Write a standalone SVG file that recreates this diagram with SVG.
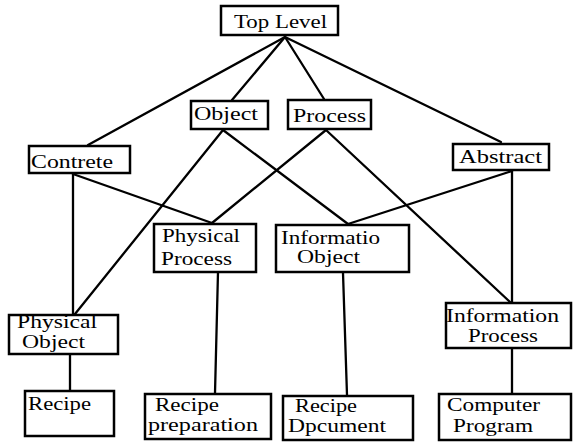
<svg xmlns="http://www.w3.org/2000/svg" width="573" height="442" viewBox="0 0 573 442">
<style>
.box{fill:#fff;stroke:#000;stroke-width:2.5}
.t{font-family:"Liberation Serif","Times New Roman",serif;font-size:18px;fill:#000}
.c line{stroke:#000;stroke-width:2.3;stroke-linecap:round}
</style>
<rect width="573" height="442" fill="#fff"/>
<g class="c" id="connectors">
<line x1="285" y1="37" x2="88" y2="145"/>
<line x1="285" y1="37" x2="232" y2="100"/>
<line x1="285" y1="37" x2="324" y2="99"/>
<line x1="285" y1="37" x2="501" y2="142"/>
<line x1="73" y1="174" x2="73" y2="314"/>
<line x1="73" y1="174" x2="212" y2="223"/>
<line x1="223" y1="130" x2="75" y2="314"/>
<line x1="223" y1="130" x2="348" y2="224"/>
<line x1="326" y1="130" x2="212" y2="223"/>
<line x1="326" y1="130" x2="510" y2="302"/>
<line x1="512" y1="171" x2="348" y2="224"/>
<line x1="512" y1="171" x2="512" y2="302"/>
<line x1="70" y1="354" x2="70" y2="390"/>
<line x1="218" y1="272" x2="215" y2="393"/>
<line x1="343" y1="273" x2="347" y2="395"/>
<line x1="512" y1="349" x2="512" y2="393"/>
</g>
<g id="top"><rect class="box" x="221" y="6" width="117" height="29"/><text class="t" x="234" y="28" textLength="93" lengthAdjust="spacingAndGlyphs">Top Level</text></g>
<g id="object"><rect class="box" x="191" y="101" width="77" height="28"/><text class="t" x="194" y="120" textLength="64" lengthAdjust="spacingAndGlyphs">Object</text></g>
<g id="process"><rect class="box" x="288" y="100" width="83" height="29"/><text class="t" x="293" y="122" textLength="73" lengthAdjust="spacingAndGlyphs">Process</text></g>
<g id="contrete"><rect class="box" x="29" y="146" width="101" height="27"/><text class="t" x="31" y="168" textLength="82" lengthAdjust="spacingAndGlyphs">Contrete</text></g>
<g id="abstract"><rect class="box" x="453" y="144" width="96" height="26"/><text class="t" x="459" y="163" textLength="83" lengthAdjust="spacingAndGlyphs">Abstract</text></g>
<g id="physical-process"><rect class="box" x="154" y="224" width="102" height="48"/><text class="t" x="162" y="242" textLength="78" lengthAdjust="spacingAndGlyphs">Physical</text><text class="t" x="161" y="265" textLength="71" lengthAdjust="spacingAndGlyphs">Process</text></g>
<g id="informatio-object"><rect class="box" x="276" y="225" width="133" height="47"/><text class="t" x="281" y="244" textLength="99" lengthAdjust="spacingAndGlyphs">Informatio</text><text class="t" x="297" y="263" textLength="63" lengthAdjust="spacingAndGlyphs">Object</text></g>
<g id="physical-object"><rect class="box" x="9" y="315" width="109" height="39"/><text class="t" x="17" y="328" textLength="80" lengthAdjust="spacingAndGlyphs">Physical</text><text class="t" x="22" y="348" textLength="63" lengthAdjust="spacingAndGlyphs">Object</text></g>
<g id="information-process"><rect class="box" x="446" y="303" width="125" height="45"/><text class="t" x="446" y="322" textLength="113" lengthAdjust="spacingAndGlyphs">Information</text><text class="t" x="468" y="342" textLength="70" lengthAdjust="spacingAndGlyphs">Process</text></g>
<g id="recipe"><rect class="box" x="25" y="391" width="89" height="45"/><text class="t" x="28" y="410" textLength="63" lengthAdjust="spacingAndGlyphs">Recipe</text></g>
<g id="recipe-preparation"><rect class="box" x="145" y="394" width="126" height="45"/><text class="t" x="155" y="411" textLength="64" lengthAdjust="spacingAndGlyphs">Recipe</text><text class="t" x="148" y="431" textLength="110" lengthAdjust="spacingAndGlyphs">preparation</text></g>
<g id="recipe-document"><rect class="box" x="283" y="396" width="130" height="44"/><text class="t" x="295" y="412" textLength="62" lengthAdjust="spacingAndGlyphs">Recipe</text><text class="t" x="288" y="432" textLength="98" lengthAdjust="spacingAndGlyphs">Dpcument</text></g>
<g id="computer-program"><rect class="box" x="439" y="394" width="132" height="46"/><text class="t" x="447" y="411" textLength="93" lengthAdjust="spacingAndGlyphs">Computer</text><text class="t" x="453" y="432" textLength="80" lengthAdjust="spacingAndGlyphs">Program</text></g>
</svg>
